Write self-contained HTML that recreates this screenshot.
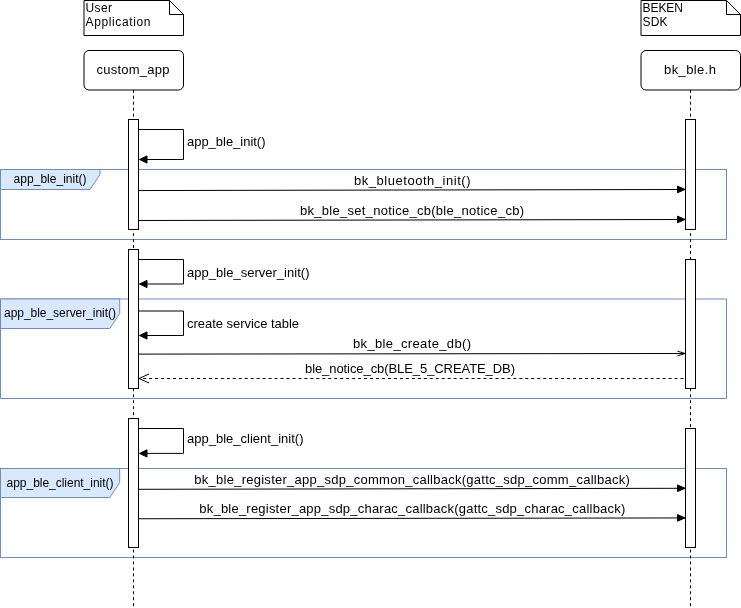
<!DOCTYPE html>
<html>
<head>
<meta charset="utf-8">
<style>
html,body{margin:0;padding:0;background:#ffffff;width:741px;height:608px;overflow:hidden;}
svg{display:block;}
text{font-family:"Liberation Sans",sans-serif;fill:#000;}
svg{will-change:transform;}
.t13{font-size:13px;}
.t12{font-size:12px;}
</style>
</head>
<body>
<svg width="741" height="608" viewBox="0 0 741 608">
<!-- frames -->
<g fill="none" stroke="#6c8ebf" stroke-width="1">
  <rect x="0.5" y="169.5" width="726" height="70"/>
  <path d="M0.5,299 H726.5 V398.5 H0.5 Z"/>
  <rect x="0.5" y="468.5" width="726" height="89"/>
</g>
<g fill="#dae8fc" stroke="#6c8ebf" stroke-width="1">
  <path d="M0.5,169.5 H100 V174.5 L90,189.5 H0.5 Z"/>
  <path d="M0.5,299 H119.7 V313.5 L109.7,328.5 H0.5 Z"/>
  <path d="M0.5,468.5 H119.7 V482.5 L109.7,497.5 H0.5 Z"/>
</g>
<text class="t12" x="13.6" y="183" textLength="73" lengthAdjust="spacing">app_ble_init()</text>
<text class="t12" x="4" y="317" textLength="112" lengthAdjust="spacing">app_ble_server_init()</text>
<text class="t12" x="6.5" y="486.5" textLength="107" lengthAdjust="spacing">app_ble_client_init()</text>

<!-- notes -->
<g fill="#fff" stroke="#000" stroke-width="1">
  <path d="M84,0.5 H169.5 L183.5,14.5 V35.5 H84 Z"/>
  <path d="M169.5,0.5 V14.5 H183.5" fill="none"/>
  <path d="M641,0.5 H726.5 L740.5,14.5 V35.5 H641 Z"/>
  <path d="M726.5,0.5 V14.5 H740.5" fill="none"/>
</g>
<text class="t12" x="85.5" y="11.7" textLength="26.5" lengthAdjust="spacing">User</text>
<text class="t12" x="85.5" y="25.8" textLength="65" lengthAdjust="spacing">Application</text>
<text class="t12" x="642.5" y="11.7" textLength="40.5" lengthAdjust="spacing">BEKEN</text>
<text class="t12" x="642.5" y="25.5" textLength="25" lengthAdjust="spacing">SDK</text>

<!-- lifelines -->
<g fill="#fff" stroke="#000" stroke-width="1">
  <rect x="84" y="50.5" width="99.5" height="39.5" rx="5" ry="5"/>
  <rect x="641" y="50.5" width="99.5" height="39.5" rx="5" ry="5"/>
</g>
<g fill="none" stroke="#000" stroke-width="1" stroke-dasharray="2.985 2.985">
  <path d="M133.5,89.8 V608"/>
  <path d="M690.5,89.8 V608"/>
</g>
<text class="t13" x="96.5" y="73.8" textLength="73" lengthAdjust="spacing">custom_app</text>
<text class="t13" x="664" y="73.7" textLength="52" lengthAdjust="spacing">bk_ble.h</text>

<!-- activation bars -->
<g fill="#fff" stroke="#000" stroke-width="1">
  <rect x="128.5" y="119.5" width="10" height="110"/>
  <rect x="128.5" y="249.5" width="10" height="139"/>
  <rect x="128.5" y="418.5" width="10" height="129"/>
  <rect x="685.5" y="119.5" width="10" height="110"/>
  <rect x="685.5" y="259.5" width="10" height="129"/>
  <rect x="685.5" y="428.5" width="10" height="119"/>
</g>

<!-- messages -->
<g fill="none" stroke="#000" stroke-width="1">
  <path d="M138.5,129.5 H183.5 V159.5 H146"/>
  <path d="M138.5,259.5 H183.5 V284 H146"/>
  <path d="M138.5,311 H183.5 V335.5 H146"/>
  <path d="M138.5,428.5 H183.5 V453.4 H146"/>
  <path d="M138.5,190.55 L678,189.5"/>
  <path d="M138.5,220.5 L678,219.5"/>
  <path d="M138.5,489.3 L678,488.3"/>
  <path d="M138.5,518.75 L678,517.95"/>
  <path d="M138.5,354.1 L685,353.5"/>
  <path d="M677.5,351.2 L685.2,353.5 L677.5,355.8"/>
  <path d="M683.5,378.5 H140" stroke-dasharray="2.985 2.985"/>
  <path d="M149,374 L139,378.5 L149,383"/>
</g>
<g fill="#000" stroke="#000" stroke-width="1" stroke-linejoin="miter">
  <path d="M139.5,159.5 L147,155.90 L147,163.10 Z"/>
  <path d="M139.5,284 L147,280.40 L147,287.60 Z"/>
  <path d="M139.5,335.5 L147,331.90 L147,339.10 Z"/>
  <path d="M139.5,453.4 L147,449.80 L147,457.00 Z"/>
  <path d="M685,189.45 L677.5,186.15 L677.5,192.75 Z"/>
  <path d="M685,219.45 L677.5,216.15 L677.5,222.75 Z"/>
  <path d="M685,488.25 L677.5,484.95 L677.5,491.55 Z"/>
  <path d="M685,517.9 L677.5,514.60 L677.5,521.20 Z"/>
</g>

<!-- message labels -->
<text class="t13" x="187" y="145.9" textLength="78.5" lengthAdjust="spacing">app_ble_init()</text>
<text class="t13" x="354" y="185.2" textLength="116.5" lengthAdjust="spacing">bk_bluetooth_init()</text>
<text class="t13" x="300" y="214.8" textLength="224" lengthAdjust="spacing">bk_ble_set_notice_cb(ble_notice_cb)</text>
<text class="t13" x="187" y="276.6" textLength="122.5" lengthAdjust="spacing">app_ble_server_init()</text>
<text class="t13" x="187" y="327.8" textLength="112" lengthAdjust="spacing">create service table</text>
<text class="t13" x="353" y="347.8" textLength="118" lengthAdjust="spacing">bk_ble_create_db()</text>
<text class="t13" x="305" y="372.5" textLength="210" lengthAdjust="spacing">ble_notice_cb(BLE_5_CREATE_DB)</text>
<text class="t13" x="187" y="442.8" textLength="116.5" lengthAdjust="spacing">app_ble_client_init()</text>
<text class="t13" x="194.3" y="483.5" textLength="435.5" lengthAdjust="spacing">bk_ble_register_app_sdp_common_callback(gattc_sdp_comm_callback)</text>
<text class="t13" x="199.3" y="513.2" textLength="426" lengthAdjust="spacing">bk_ble_register_app_sdp_charac_callback(gattc_sdp_charac_callback)</text>
</svg>
</body>
</html>
